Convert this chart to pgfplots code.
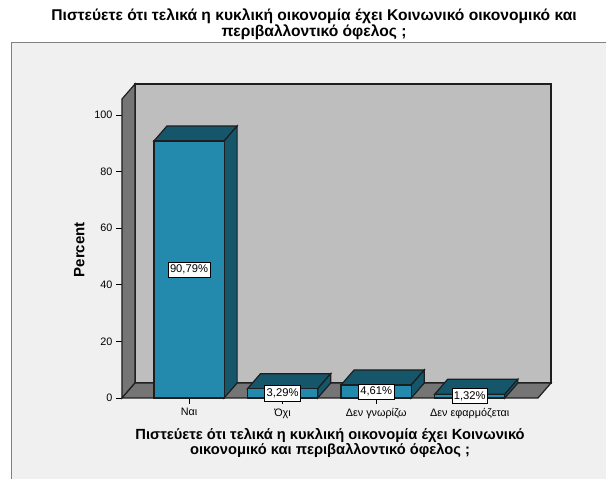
\documentclass[border=0pt]{standalone}
\usepackage{fontspec}
\setmainfont{Liberation Sans}
\usepackage{pgfplots}
\pgfplotsset{compat=1.18}
\definecolor{barfront}{HTML}{2389AD}
\definecolor{bardark}{HTML}{15566A}
\definecolor{wallside}{HTML}{757575}
\definecolor{wallback}{HTML}{BEBEBE}
\definecolor{panel}{HTML}{F0F0F0}
\definecolor{edge}{HTML}{1E1E1E}
\begin{document}
\begin{tikzpicture}[x=1pt,y=1pt]
\path[use as bounding box] (0,0) rectangle (606,479);
\fill[white] (0,0) rectangle (606,479);
\fill[panel] (11,0) rectangle (606,436);
\draw[gray,line width=1pt] (11,0) -- (11,436) -- (606,436);
\node[font=\bfseries\fontsize{15.6}{16}\selectfont,align=center,text=black] at (314,455) {Πιστεύετε ότι τελικά η κυκλική οικονομία έχει Κοινωνικό οικονομικό και\\περιβαλλοντικό όφελος ;};
\begin{axis}[
  at={(122pt,81pt)},
  anchor=south west,
  scale only axis,width=429pt,height=314pt,
  xmin=-0.716,xmax=3.868,ymin=0,ymax=110.95,
  clip=false,
  axis lines*=left,
  axis line style={draw=none},
  xtick={0,1,2,3},
  xticklabels={Ναι,Όχι,Δεν γνωρίζω,Δεν εφαρμόζεται},
  ytick={0,20,40,60,80,100},
  tick style={black,line width=0.8pt},
  tick align=outside,
  major tick length=6pt,
  tick label style={font=\fontsize{10.8}{11}\selectfont},
  /pgf/number format/assume math mode=true,
  xticklabel style={yshift=-1pt},
  ylabel={\bfseries Percent},
  ylabel style={font=\fontsize{15}{15}\selectfont,at={(axis description cs:-0.079,0.472)}},
  xlabel={\bfseries\begin{tabular}{c}Πιστεύετε ότι τελικά η κυκλική οικονομία έχει Κοινωνικό\\[-0.5pt]οικονομικό και περιβαλλοντικό όφελος ;\end{tabular}},
  xlabel style={font=\fontsize{14.7}{15.5}\selectfont,at={(axis description cs:0.485,0)},yshift=-27pt,anchor=north},
]
% walls and floor
\addplot[fill=wallback,draw=edge,line width=1.2pt] coordinates {(-0.577,5.3) (3.868,5.3) (3.868,110.95) (-0.577,110.95)} -- cycle;
\addplot[fill=wallside,draw=edge,line width=1.2pt] coordinates {(-0.716,0) (-0.577,5.3) (-0.577,110.95) (-0.716,105.65)} -- cycle;
\addplot[fill=wallside,draw=edge,line width=1.2pt] coordinates {(-0.716,0) (3.729,0) (3.868,5.3) (-0.577,5.3)} -- cycle;
% bar 1
\addplot[fill=bardark,draw=edge,line width=1.2pt] coordinates {(-0.375,90.79) (0.375,90.79) (0.514,96.09) (-0.236,96.09)} -- cycle;
\addplot[fill=bardark,draw=edge,line width=1.2pt] coordinates {(0.375,0) (0.514,5.3) (0.514,96.09) (0.375,90.79)} -- cycle;
\addplot[fill=barfront,draw=edge,line width=1.2pt] coordinates {(-0.375,0) (0.375,0) (0.375,90.79) (-0.375,90.79)} -- cycle;
% bar 2
\addplot[fill=bardark,draw=edge,line width=1.2pt] coordinates {(0.625,3.29) (1.375,3.29) (1.514,8.59) (0.764,8.59)} -- cycle;
\addplot[fill=bardark,draw=edge,line width=1.2pt] coordinates {(1.375,0) (1.514,5.3) (1.514,8.59) (1.375,3.29)} -- cycle;
\addplot[fill=barfront,draw=edge,line width=1.2pt] coordinates {(0.625,0) (1.375,0) (1.375,3.29) (0.625,3.29)} -- cycle;
% bar 3
\addplot[fill=bardark,draw=edge,line width=1.2pt] coordinates {(1.625,4.61) (2.375,4.61) (2.514,9.91) (1.764,9.91)} -- cycle;
\addplot[fill=bardark,draw=edge,line width=1.2pt] coordinates {(2.375,0) (2.514,5.3) (2.514,9.91) (2.375,4.61)} -- cycle;
\addplot[fill=barfront,draw=edge,line width=1.2pt] coordinates {(1.625,0) (2.375,0) (2.375,4.61) (1.625,4.61)} -- cycle;
% bar 4
\addplot[fill=bardark,draw=edge,line width=1.2pt] coordinates {(2.625,1.32) (3.375,1.32) (3.514,6.62) (2.764,6.62)} -- cycle;
\addplot[fill=bardark,draw=edge,line width=1.2pt] coordinates {(3.375,0) (3.514,5.3) (3.514,6.62) (3.375,1.32)} -- cycle;
\addplot[fill=barfront,draw=edge,line width=1.2pt] coordinates {(2.625,0) (3.375,0) (3.375,1.32) (2.625,1.32)} -- cycle;
% labels
\tikzset{vl/.style={fill=white,draw=black,line width=0.7pt,inner xsep=2pt,inner ysep=3pt,font=\fontsize{11.2}{11.2}\selectfont}}
\node[vl] at (axis cs:0,45.4) {90,79\%};
\node[vl] at (axis cs:1,1.65) {3,29\%};
\node[vl] at (axis cs:2,2.3) {4,61\%};
\node[vl] at (axis cs:3,0.66) {1,32\%};
\end{axis}
\end{tikzpicture}
\end{document}
